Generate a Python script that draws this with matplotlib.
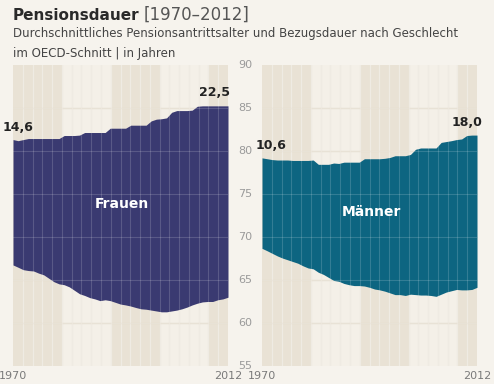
import numpy as np
import matplotlib
matplotlib.use("Agg")
from matplotlib import pyplot as plt
import matplotlib.transforms as mtransforms

plt.rcParams["font.family"] = ["DejaVu Sans"]

# Daten: Pensionsantrittsalter (unten) und Lebenserwartung (oben)
years = np.arange(1970, 2013)
frauen_antritt = [66.75, 66.48, 66.2, 66.1, 66.05, 65.8, 65.6, 65.2, 64.8, 64.55,
                  64.45, 64.2, 63.8, 63.4, 63.2, 62.95, 62.8, 62.6, 62.7, 62.6,
                  62.4, 62.2, 62.1, 61.97, 61.8, 61.65, 61.6, 61.5, 61.4, 61.3,
                  61.3, 61.4, 61.5, 61.65, 61.85, 62.1, 62.3, 62.45, 62.5, 62.5,
                  62.7, 62.8, 63.0]
frauen_ende = [81.33, 81.2, 81.33, 81.45, 81.45, 81.45, 81.45, 81.45, 81.45, 81.45,
               81.8, 81.8, 81.8, 81.85, 82.15, 82.15, 82.15, 82.15, 82.15, 82.65,
               82.65, 82.65, 82.65, 83.0, 83.0, 83.0, 83.0, 83.5, 83.7, 83.75,
               83.85, 84.5, 84.7, 84.7, 84.7, 84.75, 85.2, 85.25, 85.25, 85.25,
               85.25, 85.25, 85.25]
maenner_antritt = [68.68, 68.4, 68.1, 67.8, 67.55, 67.35, 67.15, 66.95, 66.65, 66.4,
                   66.3, 65.9, 65.65, 65.3, 64.95, 64.85, 64.6, 64.45, 64.35, 64.35,
                   64.3, 64.15, 63.95, 63.85, 63.7, 63.5, 63.3, 63.3, 63.2, 63.35,
                   63.3, 63.25, 63.25, 63.2, 63.1, 63.35, 63.6, 63.75, 63.9, 63.85,
                   63.85, 63.9, 64.15]
maenner_ende = [79.2, 79.1, 79.0, 78.95, 78.95, 78.95, 78.9, 78.9, 78.9, 78.9,
                78.95, 78.45, 78.45, 78.45, 78.6, 78.55, 78.7, 78.7, 78.7, 78.7,
                79.1, 79.1, 79.1, 79.1, 79.15, 79.25, 79.45, 79.45, 79.45, 79.6,
                80.2, 80.35, 80.35, 80.35, 80.35, 81.0, 81.1, 81.2, 81.33, 81.4,
                81.8, 81.85, 81.85]
start_labels = ["14,6", "10,6"]
end_labels = ["22,5", "18,0"]
panel_names = ["Frauen", "Männer"]
y_ticks = [55, 60, 65, 70, 75, 80, 85, 90]

farben = ["#3a3a71", "#0d6581"]
bg = "#f6f3ed"
band_dunkel = "#e9e2d5"
band_hell = "#f4f0e8"
linie = "#ede8de"
name_hoehe = [73.8, 72.9]   # vertikale Lage der Panel-Namen
start_dx = [-10, -6]

W, H = 494, 384
fig = plt.figure(figsize=(W / 100, H / 100), dpi=100, facecolor=bg)

def px(x, y):
    return x / W, 1 - y / H

panels = [(13, frauen_antritt, frauen_ende), (262, maenner_antritt, maenner_ende)]
axes = []
for i, (x0, unten, oben) in enumerate(panels):
    ax = fig.add_axes([x0 / W, 1 - 366 / H, 215 / W, 301 / H])
    ax.set_facecolor(bg)
    ax.set_xlim(1970, 2012)
    ax.set_ylim(55, 90)
    col = (2012 - 1970) / 44  # 44 Spalten im Raster
    for k in range(5):
        a = 1970 + k * 10 * col
        b = min(1970 + (k + 1) * 10 * col, 2012)
        ax.axvspan(a, b, color=band_dunkel if k % 2 == 0 else band_hell, lw=0, zorder=0)
    for k in range(1, 22):
        ax.axvline(1970 + 2 * k * col, color=linie, lw=1, zorder=1)
    for v in range(60, 90, 5):
        ax.axhline(v, color="#e4ddcf", lw=1, zorder=1)
    ax.fill_between(years, unten, oben, color=farben[i], lw=0, zorder=2)
    # helle Rasterlinien auf der Fläche
    for k in range(1, 22):
        ax.axvline(1970 + 2 * k * col, color="white", lw=0.8, alpha=0.16, zorder=3)
    for v in range(60, 90, 5):
        ax.axhline(v, color="white", lw=0.8, alpha=0.16, zorder=3)
    for s in ax.spines.values():
        s.set_visible(False)
    ax.set_xticks([])
    ax.set_yticks([])

    # Beschriftungen
    ax.annotate(start_labels[i], xy=(years[0], oben[0]), xytext=(start_dx[i], 12),
                textcoords="offset pixels", ha="left", va="center",
                fontsize=9, fontweight="bold", color="#222222", annotation_clip=False)
    ax.annotate(end_labels[i], xy=(years[-1], oben[-1]), xytext=(2 + 3 * i, 13),
                textcoords="offset pixels", ha="right", va="center",
                fontsize=9, fontweight="bold", color="#222222", annotation_clip=False)
    ax.text(np.mean(years) + 0.3, name_hoehe[i], panel_names[i], ha="center", va="center",
            fontsize=10, fontweight="bold", color="white", zorder=5)
    for yr in [years[0], years[-1]]:
        ax.annotate(str(yr), xy=(yr, 55), xytext=(0, -10), textcoords="offset pixels",
                    ha="center", va="center", fontsize=8, color="#7a7a7a",
                    annotation_clip=False)
    axes.append(ax)

# Y-Achse in der Mitte
trans = mtransforms.blended_transform_factory(fig.transFigure, axes[0].transData)
for v in y_ticks:
    fig.text(245 / W, v, str(v), transform=trans, ha="center", va="center",
             fontsize=8, color="#9a9a9a")

# Titel
t1 = fig.text(*px(13, 15), "Pensionsdauer", fontsize=11, fontweight="bold",
              color="#2a2a2a", va="center", ha="left")
fig.canvas.draw()
bb = t1.get_window_extent()
fig.text((bb.x1 + 4) / W, 1 - 15 / H, "[1970–2012]", fontsize=12,
         color="#555555", va="center", ha="left")
fig.text(*px(13, 34), "Durchschnittliches Pensionsantrittsalter und Bezugsdauer nach Geschlecht",
         fontsize=8.5, color="#444444", va="center", ha="left")
fig.text(*px(13, 53), "im OECD-Schnitt | in Jahren",
         fontsize=8.5, color="#444444", va="center", ha="left")

fig.savefig("out.png", dpi=100, facecolor=bg)
